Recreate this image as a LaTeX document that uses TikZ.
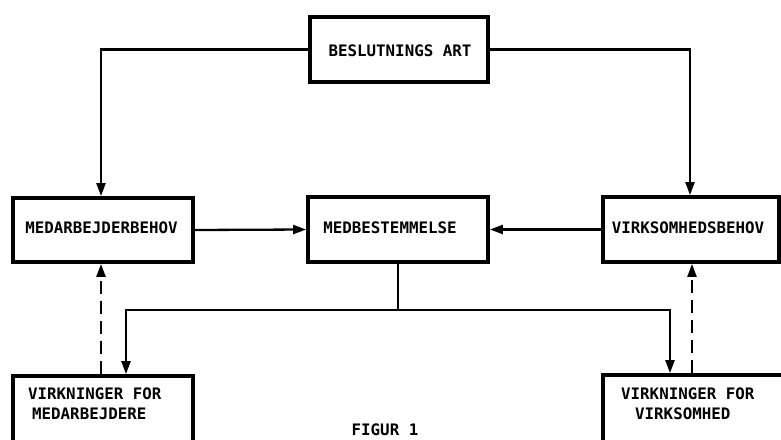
\documentclass[tikz,border=0pt]{standalone}
\usepackage{fontspec}
\setmonofont{DejaVu Sans Mono}
\usetikzlibrary{arrows.meta,calc}
\begin{document}
\begin{tikzpicture}[x=1pt,y=-1pt,
  box/.style={draw=black,line width=3.8pt,fill=white,inner sep=0pt},
  lbl/.style={font=\ttfamily\bfseries\fontsize{15.8}{20}\selectfont,inner sep=0pt},
  conn/.style={line width=2.3pt,-{Triangle[length=13pt,width=9pt]}},
  dconn/.style={conn,dash pattern=on 13pt off 7pt}]
\useasboundingbox (0,0) rectangle (781,439);
% boxes
\node[box,minimum width=178pt,minimum height=65pt] (top) at (399,49.5) {};
\node[box,minimum width=180pt,minimum height=64pt] (mL) at (103,230) {};
\node[box,minimum width=180pt,minimum height=65pt] (mC) at (398,229.5) {};
\node[box,minimum width=176pt,minimum height=65pt] (mR) at (691,229.5) {};
\node[box,minimum width=180pt,minimum height=100pt] (bL) at (103,426) {};
\node[box,minimum width=200pt,minimum height=100pt] (bR) at (703,425) {};
% texts
\node[lbl] (tTop) at (400,51) {BESLUTNINGS ART};
\node[lbl] (tL) at (101.5,228) {MEDARBEJDERBEHOV};
\node[lbl] (tC) at (390,228) {MEDBESTEMMELSE};
\node[lbl] (tR) at (688,228) {VIRKSOMHEDSBEHOV};
\node[lbl,anchor=north west,align=left] (tBL) at (28,388) {VIRKNINGER FOR\\\hspace*{4pt}MEDARBEJDERE};
\node[lbl,anchor=north west,align=left] (tBR) at (621,388) {VIRKNINGER FOR\\\hspace*{14pt}VIRKSOMHED};
\node[lbl,anchor=base] (fig) at (385,435.5) {FIGUR 1};
% connectors
\draw[conn] (top.west) -| ([xshift=-2pt]mL.north);
\draw[conn] (top.east) -| ([xshift=-1pt]mR.north);
\draw[conn] (mL.east) -- (mC.west);
\draw[conn] (mR.west) -- (mC.east);
\coordinate (j) at (398,310);
\draw[line width=2.3pt] (mC.south) -- (j);
\draw[conn] (j) -| ([xshift=23pt]bL.north);
\draw[conn] (j) -| ([xshift=-33pt]bR.north);
\draw[dconn] ([xshift=-2pt]bL.north) -- ([xshift=-2pt]mL.south);
\draw[dconn] ([xshift=-11pt]bR.north) -- ([xshift=1pt]mR.south);
\end{tikzpicture}
\end{document}
